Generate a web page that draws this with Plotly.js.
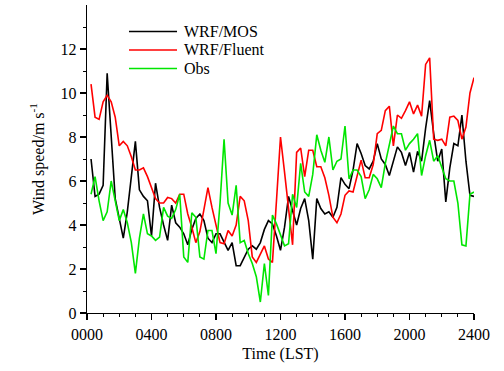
<!DOCTYPE html>
<html><head><meta charset="utf-8">
<script src="https://cdn.plot.ly/plotly-3.0.1.min.js"></script>
<style>html,body{margin:0;padding:0;background:#fff}#chart{width:504px;height:371px}</style>
</head><body><div id="chart"></div>
<script>
const seriesNames = ['WRF/MOS', 'WRF/Fluent', 'Obs'];
const seriesColors = ['#000000', '#ff0000', '#00e600'];

const wrfMos = [7.0,5.3,5.4,5.8,10.9,7.8,5.2,4.3,3.4,4.6,6.2,7.8,5.6,5.3,5.1,3.5,5.9,4.8,4.0,3.3,4.9,4.1,3.9,3.6,
  3.1,3.8,4.3,4.5,4.2,3.4,3.2,3.6,3.6,3.2,2.85,3.2,2.15,2.15,2.55,2.9,3.05,2.9,3.2,3.8,4.2,4.05,3.5,2.85,
  3.9,5.3,4.65,4.0,4.75,5.2,4.2,2.45,5.2,4.75,4.5,4.6,4.35,4.8,6.15,5.85,5.65,6.5,7.7,7.25,6.7,6.55,6.9,7.7,
  7.0,6.75,6.25,6.9,7.55,7.3,6.7,7.3,6.4,7.35,6.9,8.4,9.65,8.15,6.9,7.45,5.05,6.6,7.7,7.6,9.0,6.9,5.35,5.3];

const wrfFluent = [10.4,8.9,8.8,9.6,9.9,9.6,8.9,7.6,7.8,7.6,7.1,6.5,6.5,6.6,6.2,5.7,5.2,5.0,5.0,5.25,5.2,5.0,5.4,5.4,
  4.5,3.9,3.2,3.7,4.7,5.7,4.8,4.0,3.2,3.15,3.75,3.5,4.0,5.3,5.1,4.2,2.55,2.3,2.7,3.05,2.45,2.3,5.1,8.0,
  6.4,4.7,3.1,7.3,7.5,6.2,7.4,7.4,6.65,6.65,6.15,5.35,4.35,4.1,4.5,5.35,5.55,5.5,6.2,6.95,6.15,6.15,6.75,8.15,
  8.3,9.2,9.4,7.6,9.0,8.85,9.2,9.6,9.05,9.45,8.95,11.3,11.6,7.9,7.85,7.9,7.6,8.9,8.95,8.75,7.9,8.45,10.0,10.7];

const obs = [5.4,6.2,5.1,4.2,4.6,6.0,5.1,4.2,4.7,4.1,3.2,1.8,3.4,4.5,3.6,3.5,3.3,3.45,4.8,4.4,4.3,4.7,5.4,2.55,
  2.3,4.55,4.35,2.55,2.45,3.75,3.75,2.7,5.0,7.9,5.0,4.45,5.8,3.2,3.3,2.7,2.25,1.65,0.5,2.25,0.8,4.45,4.05,3.5,
  3.05,3.15,5.4,4.8,6.8,5.5,5.3,6.3,8.1,7.4,6.85,8.0,6.5,6.9,7.0,8.5,6.1,6.5,6.5,6.2,5.2,5.6,6.3,6.1,
  5.7,6.8,7.6,8.5,8.15,8.15,7.4,7.7,7.9,8.15,6.25,7.15,7.85,6.9,7.15,6.6,6.1,6.0,6.0,5.0,3.1,3.05,5.4,5.5];

const xTickVals = [0, 4, 8, 12, 16, 20, 24];
const xTickText = ['0000', '0400', '0800', '1200', '1600', '2000', '2400'];
const yTickVals = [0, 2, 4, 6, 8, 10, 12];
const yMinorVals = [1, 3, 5, 7, 9, 11, 13];

const stepHours = 0.25; // 15-minute sampling
const times = wrfMos.map((_, i) => (i + 1) * stepHours);

const seriesValues = [wrfMos, wrfFluent, obs];
const font = 'Liberation Serif';

const traces = seriesValues.map((vals, k) => ({
  x: times, y: vals, type: 'scatter', mode: 'lines', name: seriesNames[k],
  line: {color: seriesColors[k], width: 1.6}, hoverinfo: 'skip'
}));

// hand-drawn legend (line samples + labels) in paper coordinates
const legX0 = 0.1085, legX1 = 0.2326, legTextX = 0.2455;
const legY = [0.914, 0.854, 0.794];
const shapes = seriesNames.map((n, k) => ({
  type: 'line', xref: 'paper', yref: 'paper', x0: legX0, x1: legX1, y0: legY[k], y1: legY[k],
  line: {color: seriesColors[k], width: 1.6}
}));
const annotations = seriesNames.map((n, k) => ({
  xref: 'paper', yref: 'paper', x: legTextX, y: legY[k], xanchor: 'left', yanchor: 'middle',
  text: n, showarrow: false, font: {family: font, size: 16, color: '#000'}
}));

const layout = {
  width: 504, height: 371,
  margin: {l: 87, r: 30, t: 5, b: 58},
  paper_bgcolor: '#fff', plot_bgcolor: '#fff',
  showlegend: false,
  font: {family: font, size: 16, color: '#000'},
  xaxis: {
    range: [0, 24], showgrid: false, zeroline: false,
    showline: true, linecolor: '#000', linewidth: 1.3,
    ticks: 'outside', ticklen: 6, tickwidth: 1.3, tickcolor: '#000',
    tickmode: 'array', tickvals: xTickVals, ticktext: xTickText,
    minor: {tickmode: 'linear', tick0: 0, dtick: 1, ticks: 'outside', ticklen: 3, tickwidth: 1, tickcolor: '#000'},
    tickfont: {family: font, size: 16, color: '#000'},
    title: {text: 'Time (LST)', font: {family: font, size: 16, color: '#000'}, standoff: 6}
  },
  yaxis: {
    range: [0, 14], showgrid: false, zeroline: false,
    showline: true, linecolor: '#000', linewidth: 1.3,
    ticks: 'outside', ticklen: 6, tickwidth: 1.3, tickcolor: '#000',
    tickmode: 'array', tickvals: yTickVals,
    minor: {tickmode: 'array', tickvals: yMinorVals, ticks: 'outside', ticklen: 3, tickwidth: 1, tickcolor: '#000'},
    tickfont: {family: font, size: 16, color: '#000'},
    title: {text: 'Wind speed/m s<sup>-1</sup>', font: {family: font, size: 16, color: '#000'}, standoff: 12}
  },
  shapes: shapes,
  annotations: annotations
};

Plotly.newPlot('chart', traces, layout, {staticPlot: true, displayModeBar: false});
</script>
</body></html>
